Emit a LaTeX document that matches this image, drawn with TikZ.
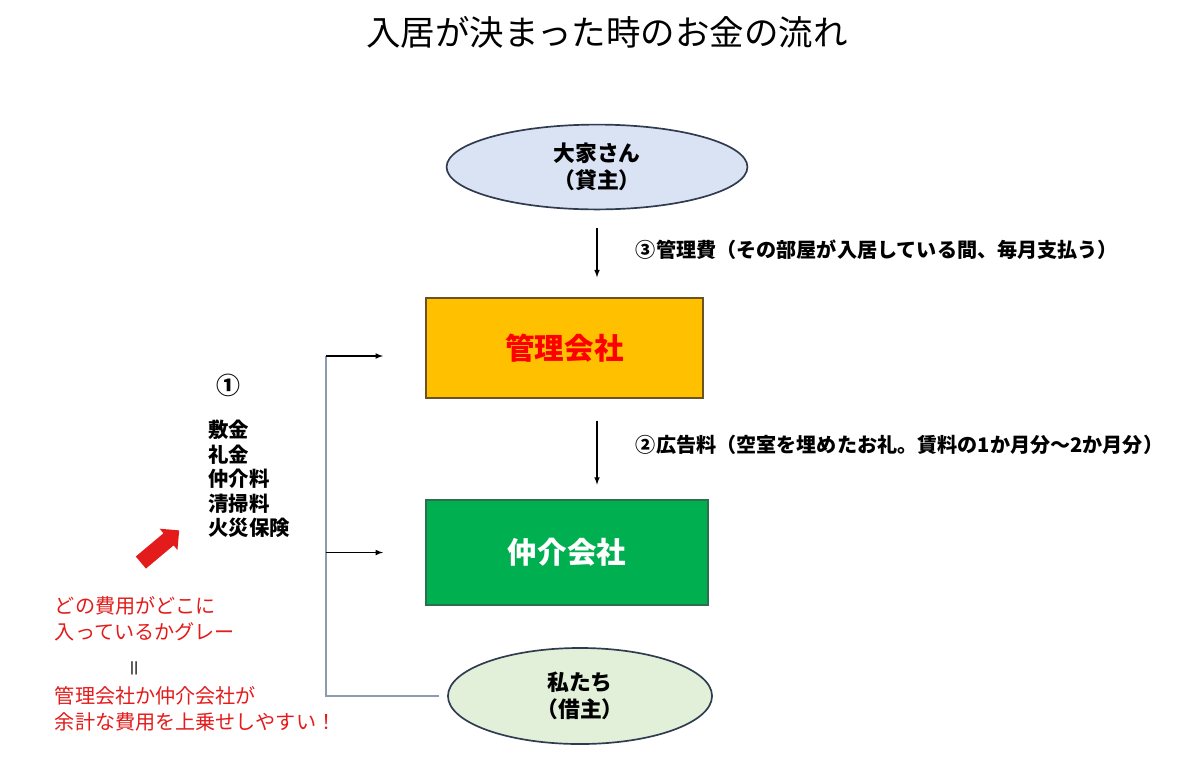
\documentclass[tikz,border=0pt]{standalone}
\usepackage{fontspec}
\setmainfont{Noto Sans CJK JP}
\usetikzlibrary{positioning,shapes.geometric,shapes.arrows}
\definecolor{ownerfill}{HTML}{DAE3F3}
\definecolor{tenantfill}{HTML}{E2F0D9}
\definecolor{rim}{HTML}{2F3B4F}
\definecolor{amber}{HTML}{FFC000}
\definecolor{amberrim}{HTML}{6B5320}
\definecolor{leaf}{HTML}{00B050}
\definecolor{leafrim}{HTML}{2D6E4E}
\definecolor{alert}{HTML}{E31B1B}
\definecolor{wire}{HTML}{8C9BAE}

\begin{document}
\begin{tikzpicture}[x=0.025cm,y=-0.025cm,
  party/.style={ellipse,draw=rim,line width=1.2pt,inner sep=0pt,align=center,font=\fontsize{15.5}{19}\selectfont\bfseries},
  company/.style={draw,line width=1pt,font=\fontsize{21}{25}\selectfont\bfseries},
  flow/.style={-latex,line width=0.8pt},
  note/.style={anchor=west,font=\fontsize{14.3}{18}\selectfont\bfseries},
  remark/.style={anchor=west,align=left,text=alert,font=\fontsize{14.3}{18.6}\selectfont}]
  \useasboundingbox (0,0) rectangle (1200,777);

  \node (title) at (607,32) {\fontsize{24.5}{28}\selectfont 入居が決まった時のお金の流れ};

  % parties and companies
  \node[party,fill=ownerfill,minimum width=7.52cm,minimum height=2.12cm] (owner) at (597,167) {大家さん\\（貸主）};
  \node[company,draw=amberrim,fill=amber,text=red,minimum width=6.92cm,minimum height=2.5cm] (kanri) at (564.5,348) {管理会社};
  \node[company,draw=leafrim,fill=leaf,text=white,minimum width=7.05cm,minimum height=2.62cm] (chukai) at (567,552.5) {仲介会社};
  \node[party,fill=tenantfill,minimum width=6.6cm,minimum height=2.4cm] (tenant) at (580,696) {私たち\\（借主）};

  % money from owner and companies
  \draw[flow,shorten <=0.45cm,shorten >=0.5cm] (owner.south) -- (kanri.north -| owner.south);
  \node[note] (fee3) at (631,250) {③管理費（その部屋が入居している間、毎月支払う）};
  \draw[flow,shorten <=0.55cm,shorten >=0.37cm] (kanri.south -| owner.south) -- (chukai.north -| owner.south);
  \node[note] (fee2) at (631,445) {②広告料（空室を埋めたお礼。賃料の1か月分～2か月分）};

  % money from tenant
  \coordinate (spine) at (326,356);
  \draw[wire,line width=1pt] ([xshift=-0.2cm]tenant.west) -- (spine |- tenant.west) -- (spine);
  \draw[flow] (spine) -- ++(57,0);
  \draw[flow] (spine |- chukai) -- ++(57,0);

  \node[font=\fontsize{17}{19}\selectfont\bfseries] (one) at (228,385) {①};
  \node[anchor=north west,align=left,inner sep=0pt,font=\fontsize{14.5}{17.4}\selectfont\bfseries] (items) at (208,420) {敷金\\礼金\\仲介料\\清掃料\\火災保険};

  % comment in red
  \node[single arrow,fill=alert,rotate=40,inner xsep=0pt,inner ysep=0.19cm,minimum height=1.25cm,single arrow head extend=0.15cm] (hint) at (157,549) {};
  \node[remark] (why) at (50,619) {どの費用がどこに\\入っているかグレー};
  \node[rotate=90,text=black,font=\fontsize{13}{15}\selectfont] (same) at (137,668) {＝};
  \node[remark] (risk) at (50,708.5) {管理会社か仲介会社が\\余計な費用を上乗せしやすい！};
\end{tikzpicture}
\end{document}
